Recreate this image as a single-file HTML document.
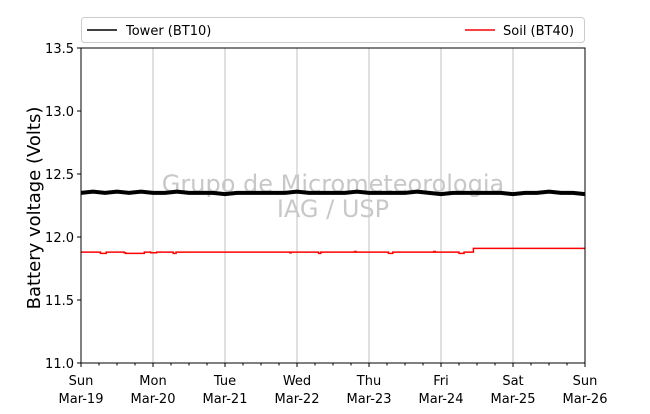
<!DOCTYPE html>
<html><head><meta charset="utf-8"><style>
body{margin:0;background:#fff}
svg text{font-family:"DejaVu Sans","Liberation Sans",sans-serif}
</style></head><body>
<svg id="c" width="650" height="409" xmlns="http://www.w3.org/2000/svg">
<rect width="650" height="409" fill="#fff"/>
<g id="grid"></g>
<g id="wm">
<text x="333" y="192" text-anchor="middle" font-size="24" fill="#c8c8c8">Grupo de Micrometeorologia</text>
<text x="333" y="217" text-anchor="middle" font-size="24" fill="#c8c8c8">IAG / USP</text>
</g>
<g id="series"></g>
<rect x="81" y="48" width="504" height="315" fill="none" stroke="#000" stroke-width="1"/>
<g id="axes"></g>
<text transform="translate(40,208) rotate(-90)" text-anchor="middle" font-size="18" fill="#000">Battery voltage (Volts)</text>
<g>
<rect x="81.5" y="17.5" width="503" height="25" rx="3" fill="#fff" stroke="#ccc"/>
<g><line x1="87" y1="30" x2="117" y2="30" stroke="#000" stroke-width="1.5"/><text x="126" y="35" font-size="13">Tower (BT10)</text></g>
<g><line x1="465" y1="30" x2="495" y2="30" stroke="#f00" stroke-width="1.5"/><text x="503" y="35" font-size="13">Soil (BT40)</text></g>
</g>
</svg>
<script>
const dayNames=["Sun","Mon","Tue","Wed","Thu","Fri","Sat","Sun"];
const dateLabels=["Mar-19","Mar-20","Mar-21","Mar-22","Mar-23","Mar-24","Mar-25","Mar-26"];
const yTicks=[11.0,11.5,12.0,12.5,13.0,13.5];
// tower voltage every 4 hours (day offsets 0..7)
const towerValues=[12.35,12.36,12.35,12.36,12.35,12.36,12.35,12.35,12.36,12.35,12.35,12.35,12.34,12.35,12.35,12.35,12.35,12.35,12.36,12.35,12.35,12.35,12.35,12.36,12.35,12.35,12.35,12.35,12.36,12.35,12.34,12.35,12.35,12.35,12.35,12.35,12.34,12.35,12.35,12.36,12.35,12.35,12.34];
// soil step series: [day, value]
const soilTimes=[0,0.27,0.35,0.6,0.62,0.8,0.88,0.97,1.05,1.12,1.28,1.32,2.9,2.92,3.3,3.33,3.8,3.82,4.27,4.33,4.9,4.92,5.25,5.32,5.45,7];
const soilValues=[11.88,11.87,11.88,11.875,11.87,11.87,11.88,11.875,11.88,11.88,11.87,11.88,11.875,11.88,11.87,11.88,11.885,11.88,11.87,11.88,11.885,11.88,11.87,11.88,11.91,11.91];
const NS="http://www.w3.org/2000/svg";
const X0=81,X1=585,Y0=363,Y1=48;
const xs=d=>X0+(X1-X0)*d/7;
const ys=v=>Y0-(Y0-Y1)*(v-11)/2.5;
function mk(t,a,p){const e=document.createElementNS(NS,t);for(const k in a)e.setAttribute(k,a[k]);p.appendChild(e);return e;}
const grid=document.getElementById('grid'),axes=document.getElementById('axes'),ser=document.getElementById('series');
for(let i=1;i<7;i++){const l=mk('line',{x1:xs(i),x2:xs(i),y1:Y1,y2:Y0,stroke:'#c0c0c0','stroke-width':1},grid);

}
for(let i=0;i<=28;i++){const major=i%4===0;const x=xs(i/4);
const t=mk('line',{x1:x,x2:x,y1:Y0,y2:Y0+(major?4:2.5),stroke:'#000'},axes);

}
dayNames.forEach((n,i)=>{const t=mk('text',{x:xs(i),y:385,'text-anchor':'middle','font-size':13},axes);t.textContent=n;


const t2=mk('text',{x:xs(i),y:403,'text-anchor':'middle','font-size':13},axes);t2.textContent=dateLabels[i];

});
yTicks.forEach(v=>{mk('line',{x1:X0-4,x2:X0,y1:ys(v),y2:ys(v),stroke:'#000'},axes);
const t=mk('text',{x:X0-7,y:ys(v)+5,'text-anchor':'end','font-size':13},axes);t.textContent=v.toFixed(1);

});
let p=towerValues.map((v,i)=>xs(i*7/(towerValues.length-1))+','+ys(v)).join(' ');
const tw=mk('polyline',{points:p,fill:'none',stroke:'#000','stroke-width':4},ser);


let sp=[];for(let i=0;i<soilTimes.length;i++){if(i>0)sp.push(xs(soilTimes[i])+','+ys(soilValues[i-1]));sp.push(xs(soilTimes[i])+','+ys(soilValues[i]));}
const so=mk('polyline',{points:sp.join(' '),fill:'none',stroke:'#f00','stroke-width':1.5},ser);


</script>
</body></html>
